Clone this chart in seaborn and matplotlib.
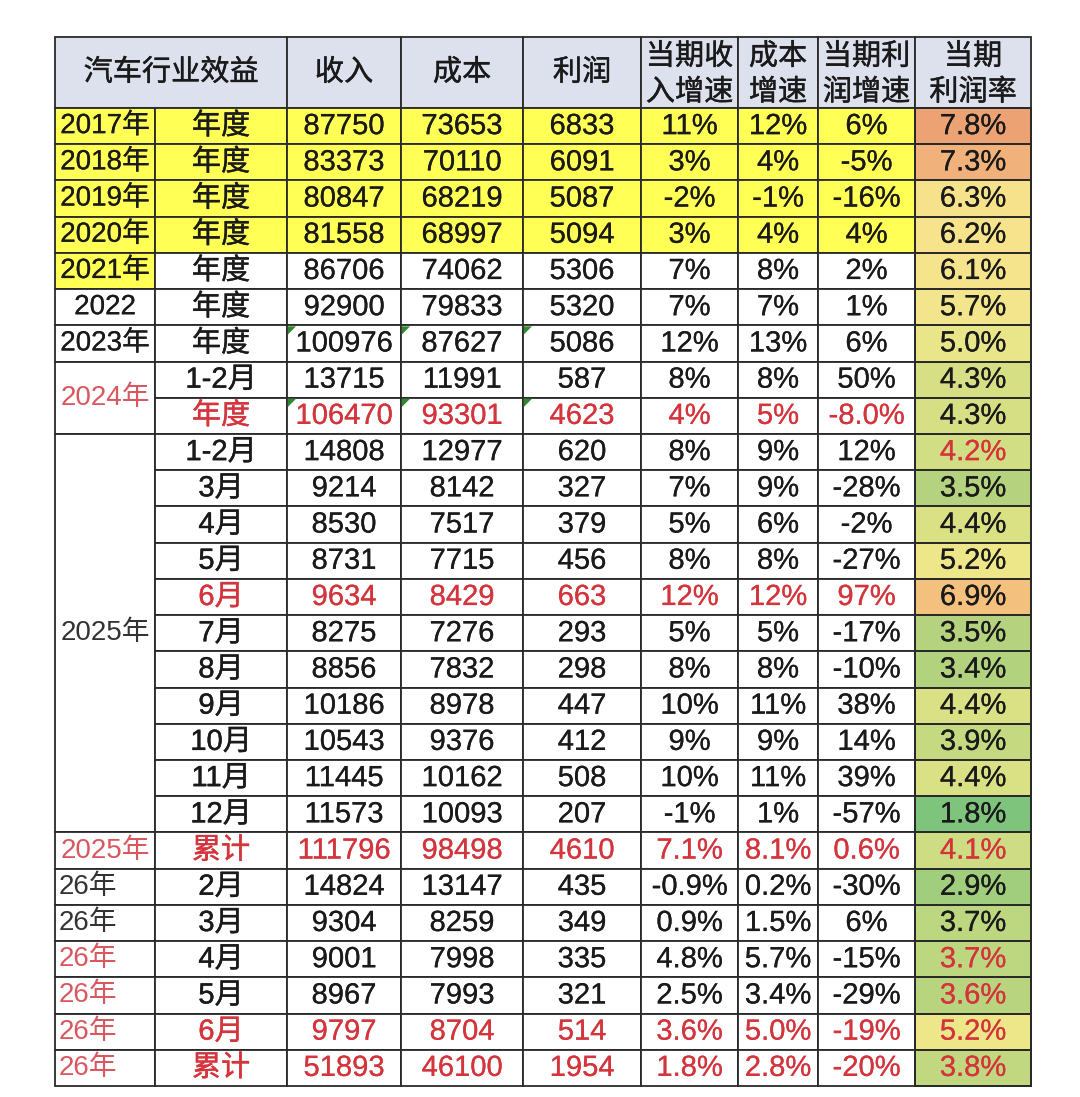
import numpy as np
import matplotlib
matplotlib.use("Agg")
import matplotlib.pyplot as plt
from matplotlib.patches import Rectangle, Polygon
from matplotlib.colors import LinearSegmentedColormap
import matplotlib.patheffects as pe
import seaborn as sns

sns.set_theme(style="white")
plt.rcParams['font.family'] = ['Liberation Sans', 'Noto Sans CJK SC', 'DejaVu Sans']

# ---------------- data ----------------
header_labels = ["汽车行业效益", "收入", "成本", "利润", "当期收\n入增速", "成本\n增速", "当期利\n润增速", "当期\n利润率"]

year_groups = ["2017年", "2018年", "2019年", "2020年", "2021年", "2022", "2023年",
               "2024年", "2025年", "2025年", "26年", "26年", "26年", "26年", "26年", "26年"]
year_spans = [1, 1, 1, 1, 1, 1, 1, 2, 11, 1, 1, 1, 1, 1, 1, 1]

periods = ["年度"] * 7 + ["1-2月", "年度", "1-2月", "3月", "4月", "5月", "6月", "7月", "8月",
                          "9月", "10月", "11月", "12月", "累计", "2月", "3月", "4月", "5月", "6月", "累计"]

revenue = [87750, 83373, 80847, 81558, 86706, 92900, 100976, 13715, 106470, 14808, 9214, 8530,
           8731, 9634, 8275, 8856, 10186, 10543, 11445, 11573, 111796, 14824, 9304, 9001, 8967,
           9797, 51893]
cost = [73653, 70110, 68219, 68997, 74062, 79833, 87627, 11991, 93301, 12977, 8142, 7517, 7715,
        8429, 7276, 7832, 8978, 9376, 10162, 10093, 98498, 13147, 8259, 7998, 7993, 8704, 46100]
profit = [6833, 6091, 5087, 5094, 5306, 5320, 5086, 587, 4623, 620, 327, 379, 456, 663, 293, 298,
          447, 412, 508, 207, 4610, 435, 349, 335, 321, 514, 1954]
rev_growth = ["11%", "3%", "-2%", "3%", "7%", "7%", "12%", "8%", "4%", "8%", "7%", "5%", "8%",
              "12%", "5%", "8%", "10%", "9%", "10%", "-1%", "7.1%", "-0.9%", "0.9%", "4.8%",
              "2.5%", "3.6%", "1.8%"]
cost_growth = ["12%", "4%", "-1%", "4%", "8%", "7%", "13%", "8%", "5%", "9%", "9%", "6%", "8%",
               "12%", "5%", "8%", "11%", "9%", "11%", "1%", "8.1%", "0.2%", "1.5%", "5.7%",
               "3.4%", "5.0%", "2.8%"]
profit_growth = ["6%", "-5%", "-16%", "4%", "2%", "1%", "6%", "50%", "-8.0%", "12%", "-28%", "-2%",
                 "-27%", "97%", "-17%", "-10%", "38%", "14%", "39%", "-57%", "0.6%", "-30%", "6%",
                 "-15%", "-29%", "-19%", "-20%"]
margin = [7.8, 7.3, 6.3, 6.2, 6.1, 5.7, 5.0, 4.3, 4.3, 4.2, 3.5, 4.4, 5.2, 6.9, 3.5, 3.4, 4.4, 3.9,
          4.4, 1.8, 4.1, 2.9, 3.7, 3.7, 3.6, 5.2, 3.8]

# ---------------- styling ----------------
RED = "#D4343C"
RED_LIGHT = "#D9575E"
DARK = "#1A1A1A"
GRID = "#2A2A2A"
HEADER_BG = "#DDE1EE"
YELLOW = "#FFFF55"

red_rows = {8, 13, 20, 25, 26}           # cols 2-8 in red
red_margin_rows = {9, 20, 23, 24, 25, 26}
yellow_full_rows = {0, 1, 2, 3}
yellow_year_rows = {0, 1, 2, 3, 4}
error_mark_rows = {6, 8}

col_edges = [55, 155, 287, 401, 523, 641, 738, 818, 915, 1031]
top, header_bot, bottom = 37, 108, 1086
n = len(periods)
row_h = (bottom - header_bot) / n
W, H = 1080, 1097

fig = plt.figure(figsize=(W / 100, H / 100), dpi=100)
fig.patch.set_facecolor("white")
ax = fig.add_axes([0, 0, 1, 1])
ax.set_xlim(0, W)
ax.set_ylim(H, 0)
ax.axis("off")

LW = 1.3
FS = 21


def cell(c0, c1, r0, r1, fc="white"):
    x0, x1 = col_edges[c0], col_edges[c1]
    ax.add_patch(Rectangle((x0, r0), x1 - x0, r1 - r0, facecolor=fc, edgecolor=GRID, lw=LW, zorder=1))
    return (x0 + x1) / 2, (r0 + r1) / 2


def txt(x, y, s, color=DARK, ha="center", stroke=0.15, size=FS, target=None, **kw):
    t = (target or ax).text(x, y, s, ha=ha, va="center", color=color, fontsize=size, zorder=3, **kw)
    if stroke > 0:
        t.set_path_effects([pe.withStroke(linewidth=stroke, foreground=color)])
    return t


# header
hx_, hy_ = cell(0, 2, top, header_bot, HEADER_BG)
txt(hx_, hy_, header_labels[0], family=['Noto Sans CJK SC'], stroke=0.3)
for j, lab in enumerate(header_labels[1:]):
    cx, cy = cell(j + 2, j + 3, top, header_bot, HEADER_BG)
    dy = 2 if "\n" in lab else 0
    txt(cx, cy + dy, lab, family=['Noto Sans CJK SC'], linespacing=1.25, stroke=0.3)

# year column (merged groups)
r = 0
for g, (lab, span) in enumerate(zip(year_groups, year_spans)):
    y0 = header_bot + r * row_h
    y1 = y0 + span * row_h
    fc = YELLOW if r in yellow_year_rows else "white"
    cx, cy = cell(0, 1, y0, y1, fc)
    stroke = 0.15
    if r <= 6:
        color, ha, x = DARK, "center", cx
    elif r in (7, 20) or r >= 23:
        color, ha, x = RED_LIGHT, ("left" if lab == "26年" else "center"), (59 if lab == "26年" else cx)
        stroke = 0
    elif lab == "26年":
        color, ha, x = "#333333", "left", 59
        stroke = 0
    else:
        color, ha, x = "#333333", "center", cx
        stroke = 0
    txt(x, cy, lab, color=color, ha=ha, stroke=stroke, size=20)
    r += span

# body columns
cols = [periods, revenue, cost, profit, rev_growth, cost_growth, profit_growth]
for i in range(n):
    y0 = header_bot + i * row_h
    y1 = y0 + row_h
    for j, col in enumerate(cols):
        fc = YELLOW if i in yellow_full_rows else "white"
        cx, cy = cell(j + 1, j + 2, y0, y1, fc)
        color = RED if i in red_rows else DARK
        stroke = 0.3 if j == 0 else 0.15
        txt(cx, cy, str(col[i]), color=color, stroke=stroke)
        if i in error_mark_rows and j in (1, 2, 3):
            x0 = col_edges[j + 1]
            ax.add_patch(Polygon([(x0 + 1, y0 + 1), (x0 + 9, y0 + 1), (x0 + 1, y0 + 9)],
                                 closed=True, facecolor="#2F8A2F", edgecolor="none", zorder=2))

# profit-rate column as seaborn heatmap with colour scale
anchor_vals = [1.8, 3.5, 4.4, 5.2, 6.3, 6.9, 7.3, 7.8]
anchor_cols = ["#7FC47C", "#B5D37E", "#DAE185", "#EEE78A", "#F7E38C", "#F3C07E", "#F0B27A", "#EDA274"]
vmin, vmax = min(anchor_vals), max(anchor_vals)
cmap = LinearSegmentedColormap.from_list(
    "margin", [((v - vmin) / (vmax - vmin), c) for v, c in zip(anchor_vals, anchor_cols)])

hx = fig.add_axes([col_edges[8] / W, (H - bottom) / H,
                   (col_edges[9] - col_edges[8]) / W, (bottom - header_bot) / H])
sns.heatmap(np.array(margin).reshape(-1, 1), cmap=cmap, vmin=vmin, vmax=vmax, cbar=False,
            linewidths=LW, linecolor=GRID, xticklabels=False, yticklabels=False, ax=hx)
hx.collections[0].set_clip_on(False)
for i, v in enumerate(margin):
    txt(0.5, i + 0.5, f"{v:.1f}%", color=RED if i in red_margin_rows else DARK,
        stroke=0.15, target=hx)
for s in hx.spines.values():
    s.set_visible(False)

fig.savefig("out.png", dpi=100, facecolor="white")
